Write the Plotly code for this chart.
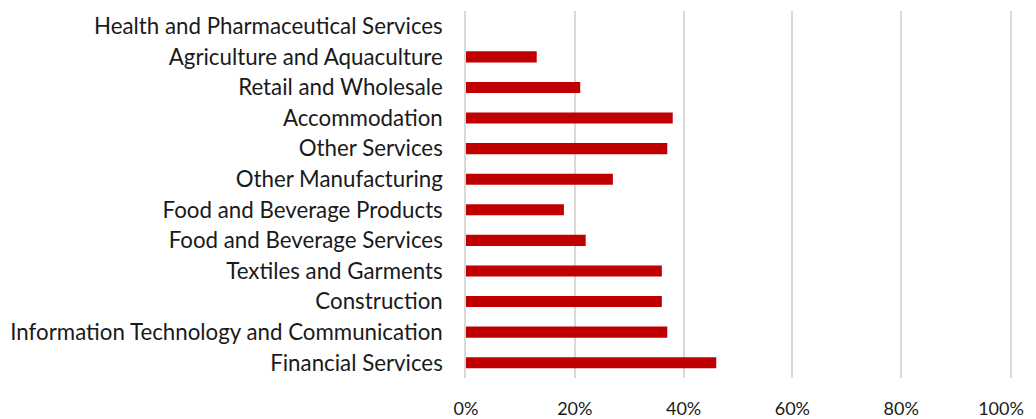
import plotly.graph_objects as go

# categories listed bottom to top, as plotly draws them
sectors = [
    "Financial Services",
    "Information Technology and Communication",
    "Construction",
    "Textiles and Garments",
    "Food and Beverage Services",
    "Food and Beverage Products",
    "Other Manufacturing",
    "Other Services",
    "Accommodation",
    "Retail and Wholesale",
    "Agriculture and Aquaculture",
    "Health and Pharmaceutical Services",
]
shares = [0.46, 0.37, 0.36, 0.36, 0.22, 0.18, 0.27, 0.37, 0.38, 0.21, 0.13, 0.0]
x_ticks = [0, 0.2, 0.4, 0.6, 0.8, 1.0]
# last label padded so it is not clipped at the right edge of the window
x_labels = ["0%", "20%", "40%", "60%", "80%", "100%\u2002\u2002"]

fig = go.Figure()
fig.add_trace(go.Bar(
    x=shares,
    y=sectors,
    orientation="h",
    marker=dict(color="#C00000", line=dict(width=0)),
    width=0.36,
))

# page body has an 8px margin, so the figure is a bit smaller than the window
fig.update_layout(
    width=1028,
    height=411,
    margin=dict(l=458, r=26, t=3, b=41),
    paper_bgcolor="white",
    plot_bgcolor="white",
    showlegend=False,
    font=dict(family="Lato, Open Sans, sans-serif", size=22, color="#1a1a1a"),
)
fig.update_xaxes(
    range=[0, 1.0],
    tickvals=x_ticks,
    ticktext=x_labels,
    tickfont=dict(size=18),
    showgrid=True,
    gridcolor="#d9d9d9",
    gridwidth=1.5,
    zeroline=False,
    showline=False,
    ticks="",
    ticklabelstandoff=18,
    ticklabeloverflow="allow",
    automargin=False,
)
fig.update_yaxes(
    tickfont=dict(size=22.3),
    showgrid=False,
    zeroline=False,
    showline=True,
    linecolor="#d9d9d9",
    linewidth=1.5,
    mirror=True,
    ticks="",
    ticklabelstandoff=17,
    automargin=False,
)

fig.write_html("out.html")
